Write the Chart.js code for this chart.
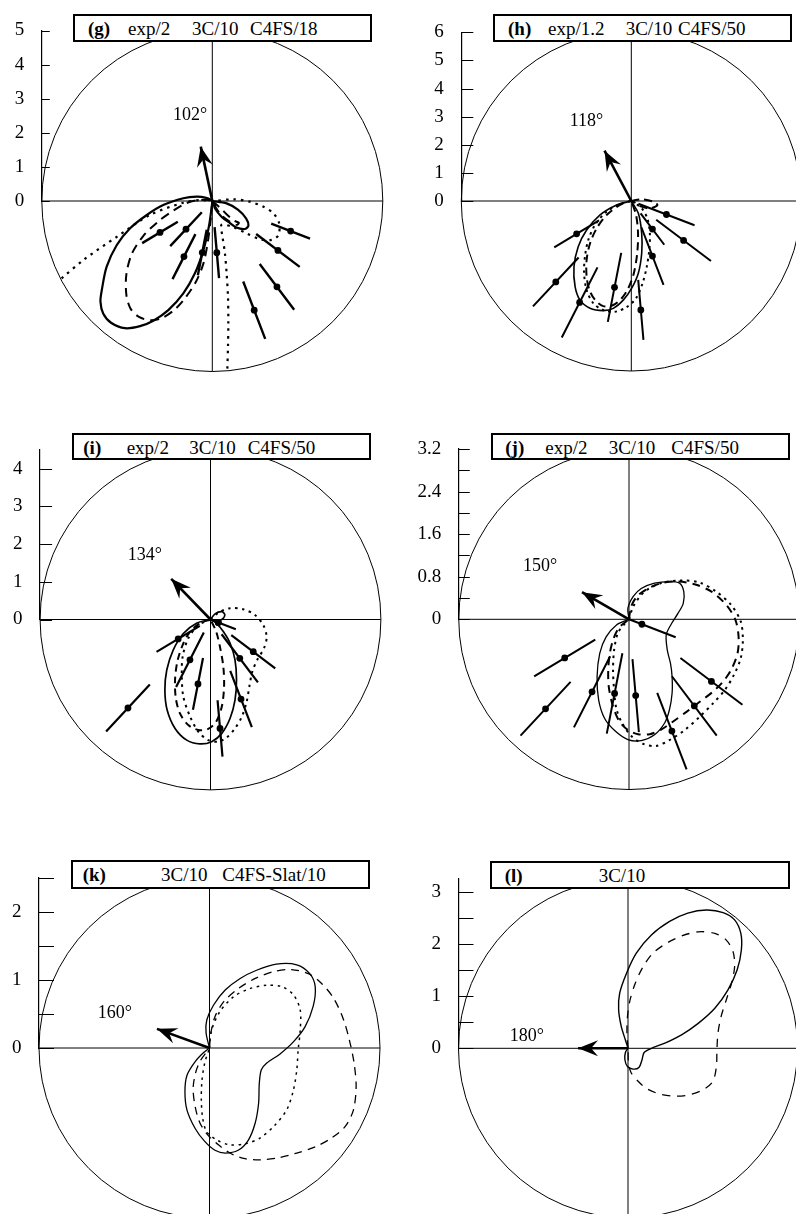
<!DOCTYPE html>
<html lang="en">
<head>
<meta charset="utf-8">
<title>Polar distributions (g)–(l)</title>
<script src="https://cdn.jsdelivr.net/npm/chart.js@4.4.1/dist/chart.umd.min.js"></script>
<style>
  html, body { margin: 0; padding: 0; background: #fff; }
  #page { position: relative; width: 796px; height: 1214px; overflow: hidden; background: #fff;
          font-family: "Liberation Serif", "Times New Roman", serif; color: #000; }
  #page canvas { position: absolute; }
  .heading { position: absolute; box-sizing: border-box; border: 2px solid #000; background: #fff; }
  .htext { position: absolute; font-size: 19px; line-height: 19px; white-space: nowrap; }
  .htext.letter { font-weight: bold; }
  .angle { position: absolute; font-size: 18px; line-height: 18px; white-space: nowrap; }
</style>
</head>
<body>
<div id="page"></div>
<script>
// ---------------------------------------------------------------------------
// Measured points (panels g–j): azimuth in degrees, magnitude and uncertainty
// ---------------------------------------------------------------------------
const pointAngles = [211, 227, 243, 259, 275, 291, 307, 323, 339];

const gPointR   = [1.79, 1.13, 1.83, 1.54, 1.52, 3.43, 3.15, 2.41, 2.46];
const gPointErr = [0.61, 0.68, 0.74, 0.68, 0.75, 0.90, 0.84, 0.80, 0.61];
const hPointR   = [2.27, 3.94, 4.05, 3.13, 3.89, 2.10, 1.25, 2.33, 1.34];
const hPointErr = [0.93, 1.19, 1.40, 1.25, 1.07, 1.10, 0.70, 1.22, 1.07];
const iPointR   = [1.00, 3.21, 1.20, 1.74, 2.90, 2.26, 1.29, 1.42, 0.22];
const iPointErr = [0.67, 0.85, 0.81, 0.70, 0.75, 0.80, 0.80, 0.73, 0.50];
const jPointR   = [1.41, 2.30, 1.53, 1.42, 1.44, 2.25, 2.04, 1.94, 0.26];
const jPointErr = [0.67, 0.69, 0.75, 0.77, 0.69, 0.77, 0.70, 0.73, 0.68];

// Direction of the arrow in each panel (degrees, counter-clockwise from +x)
const arrowAngles = [102, 118, 134, 150, 160, 180];

// Vertical axis ticks and the subset that carries a label
const gTicks = [0, 1, 2, 3, 4, 5];
const hTicks = [0, 1, 2, 3, 4, 5, 6];
const iTicks = [0, 1, 2, 3, 4];
const jTicks = [0, 0.4, 0.8, 1.2, 1.6, 2.0, 2.4, 2.8, 3.2];
const jTickLabels = [0, 0.8, 1.6, 2.4, 3.2];
const kTicks = [0, 0.5, 1, 1.5, 2, 2.5];
const kTickLabels = [0, 1, 2];
const lTicks = [0, 0.5, 1, 1.5, 2, 2.5, 3];
const lTickLabels = [0, 1, 2, 3];

// Panel headings
const panelLetters = ['(g)', '(h)', '(i)', '(j)', '(k)', '(l)'];
const headings = [
  ['exp/2', '3C/10', 'C4FS/18'],
  ['exp/1.2', '3C/10', 'C4FS/50'],
  ['exp/2', '3C/10', 'C4FS/50'],
  ['exp/2', '3C/10', 'C4FS/50'],
  ['3C/10', 'C4FS-Slat/10'],
  ['3C/10']
];

// ---------------------------------------------------------------------------
// Calculated distributions, traced as [x, y] points in axis units
// ---------------------------------------------------------------------------
const gSolid = [[0,0],[0.42,-0.07],[0.76,-0.26],[0.99,-0.51],[1.06,-0.72],[0.96,-0.82],[0.71,-0.78],[0.52,-0.65],[0.27,-0.46],[0.08,-0.22],[0,0],
  [-0.21,0.10],[-0.46,0.13],[-0.85,0.08],[-1.44,-0.12],[-1.92,-0.41],[-2.41,-0.80],[-2.80,-1.29],[-3.10,-1.93],[-3.24,-2.61],[-3.28,-2.95],
  [-3.20,-3.30],[-2.97,-3.57],[-2.56,-3.73],[-2.12,-3.67],[-1.73,-3.51],[-1.29,-3.20],[-0.85,-2.71],[-0.51,-2.12],[-0.26,-1.44],[-0.10,-0.75],[-0.01,-0.12],[0,0]];
const gDashed = [[0,0],[0.25,-0.22],[0.45,-0.42],[0.65,-0.58],[0.78,-0.64],[0.72,-0.70],[0.50,-0.60],[0.25,-0.40],[0.08,-0.15],[0,0],
  [-0.36,0.03],[-0.75,-0.06],[-1.14,-0.28],[-1.56,-0.58],[-2.02,-1.02],[-2.36,-1.55],[-2.52,-2.15],[-2.52,-2.75],[-2.40,-3.15],[-2.15,-3.40],
  [-1.80,-3.50],[-1.45,-3.42],[-1.10,-3.18],[-0.80,-2.85],[-0.48,-2.37],[-0.26,-1.83],[-0.13,-1.19],[-0.05,-0.56],[0,0]];
const gDotted = [[-4.42,-2.27],[-3.78,-1.73],[-2.80,-1.05],[-1.83,-0.41],[-0.85,-0.05],[-0.36,0.03],[0,0],[0.62,0.05],[1.10,-0.02],[1.50,-0.17],
  [1.79,-0.36],[1.96,-0.65],[1.94,-1.00],[1.74,-1.14],[1.40,-1.12],[1.01,-0.95],[0.62,-0.77],[0.27,-0.70],[0.30,-1.05],[0.37,-1.53],[0.42,-2.12],
  [0.46,-2.81],[0.47,-3.59],[0.46,-4.27],[0.44,-4.95]];

const hSolid = [[0,0],[-0.52,-0.14],[-1.12,-0.50],[-1.59,-1.03],[-1.89,-1.63],[-2.04,-2.34],[-2.00,-3.05],[-1.83,-3.52],[-1.47,-3.82],[-1.00,-3.90],
  [-0.64,-3.82],[-0.28,-3.52],[0.01,-3.11],[0.25,-2.57],[0.37,-1.86],[0.37,-1.15],[0.25,-0.44],[0,0]];
const hDashed = [[0,0],[0.37,0.06],[0.78,-0.02],[0.93,-0.14],[0.66,-0.26],[0.31,-0.18],[0,0],[-0.40,-0.14],[-0.88,-0.50],[-1.23,-0.97],[-1.47,-1.51],
  [-1.59,-2.10],[-1.59,-2.69],[-1.49,-3.17],[-1.29,-3.52],[-1.00,-3.74],[-0.64,-3.70],[-0.34,-3.46],[-0.11,-3.11],[0.09,-2.57],[0.21,-1.86],
  [0.24,-1.15],[0.17,-0.50],[0,0]];
const hDotted = [[0,0],[0.37,-0.26],[0.57,-0.62],[0.66,-1.15],[0.64,-1.74],[0.55,-2.34],[0.40,-2.93],[0.17,-3.46],[-0.17,-3.78],[-0.58,-3.94],
  [-1.00,-3.88],[-1.35,-3.64],[-1.59,-3.17],[-1.68,-2.57],[-1.65,-1.98],[-1.53,-1.39],[-1.29,-0.85],[-0.88,-0.38],[-0.40,-0.11],[0,0]];

const iSolid = [[0,0],[0.12,0.15],[0.30,0.21],[0.38,0.12],[0.30,0.00],[0.12,-0.03],[0,0],[-0.37,-0.10],[-0.72,-0.37],[-0.99,-0.81],[-1.16,-1.34],
  [-1.21,-1.87],[-1.15,-2.40],[-0.94,-2.89],[-0.63,-3.20],[-0.28,-3.30],[0.03,-3.24],[0.30,-3.02],[0.52,-2.62],[0.65,-2.14],[0.69,-1.60],
  [0.65,-1.07],[0.52,-0.63],[0.34,-0.32],[0.16,-0.10],[0,0]];
const iDashed = [[0,0],[-0.28,-0.10],[-0.54,-0.32],[-0.74,-0.68],[-0.88,-1.12],[-0.94,-1.60],[-0.92,-2.09],[-0.81,-2.49],[-0.59,-2.80],[-0.32,-2.93],
  [-0.06,-2.90],[0.15,-2.71],[0.30,-2.31],[0.36,-1.78],[0.34,-1.25],[0.25,-0.72],[0.15,-0.32],[0,0]];
const iDotted = [[0,0],[0.21,0.18],[0.52,0.30],[0.87,0.27],[1.18,0.12],[1.40,-0.15],[1.49,-0.46],[1.42,-0.76],[1.24,-1.07],[1.11,-1.38],[1.03,-1.78],
  [0.96,-2.18],[0.83,-2.58],[0.65,-2.89],[0.43,-3.13],[0.21,-3.24],[-0.06,-3.20],[-0.32,-2.98],[-0.54,-2.58],[-0.72,-2.05],[-0.76,-1.52],
  [-0.74,-0.99],[-0.59,-0.50],[-0.32,-0.15],[0,0]];

const jSolid = [[0,0],[-0.02,0.21],[0.08,0.43],[0.23,0.58],[0.48,0.68],[0.76,0.71],[0.95,0.68],[1.03,0.52],[1.02,0.30],[0.92,0.11],[0.80,-0.08],
  [0.70,-0.29],[0.72,-0.58],[0.78,-0.83],[0.81,-1.08],[0.81,-1.39],[0.76,-1.70],[0.67,-1.95],[0.48,-2.17],[0.23,-2.28],[-0.02,-2.26],[-0.27,-2.09],
  [-0.46,-1.86],[-0.57,-1.52],[-0.60,-1.08],[-0.55,-0.64],[-0.43,-0.33],[-0.24,-0.11],[0,0]];
const jDashed = [[0,0],[0.04,0.24],[0.16,0.44],[0.36,0.58],[0.61,0.68],[0.92,0.71],[1.23,0.66],[1.55,0.52],[1.83,0.27],[2.00,-0.01],[2.06,-0.33],
  [2.04,-0.64],[1.92,-0.95],[1.77,-1.17],[1.58,-1.36],[1.33,-1.55],[1.08,-1.74],[0.83,-1.92],[0.61,-2.07],[0.39,-2.16],[0.17,-2.16],[-0.02,-2.08],
  [-0.18,-1.92],[-0.30,-1.64],[-0.38,-1.27],[-0.39,-0.95],[-0.36,-0.64],[-0.29,-0.36],[-0.18,-0.15],[0,0]];
const jDotted = [[0,0],[0.08,0.24],[0.29,0.52],[0.61,0.68],[0.98,0.73],[1.33,0.69],[1.64,0.52],[1.92,0.27],[2.10,-0.04],[2.14,-0.39],[2.10,-0.73],
  [1.97,-1.05],[1.80,-1.33],[1.58,-1.58],[1.33,-1.83],[1.05,-2.08],[0.76,-2.27],[0.51,-2.38],[0.26,-2.34],[0.04,-2.19],[-0.13,-1.95],[-0.24,-1.67],
  [-0.28,-1.33],[-0.30,-0.95],[-0.28,-0.58],[-0.21,-0.26],[-0.08,-0.08],[0,0]];

const kSolid = [[0,0],[-0.05,0.22],[-0.04,0.41],[0.06,0.63],[0.23,0.85],[0.45,1.02],[0.69,1.14],[0.98,1.23],[1.28,1.22],[1.47,1.09],[1.55,0.90],
  [1.52,0.61],[1.40,0.31],[1.23,0.09],[1.03,-0.09],[0.84,-0.22],[0.76,-0.32],[0.73,-0.52],[0.72,-0.81],[0.67,-1.10],[0.57,-1.35],[0.42,-1.50],
  [0.23,-1.54],[0.08,-1.50],[-0.07,-1.37],[-0.21,-1.18],[-0.33,-0.91],[-0.36,-0.64],[-0.33,-0.40],[-0.21,-0.20],[-0.09,-0.07],[0,0]];
const kDashed = [[0,0],[0.02,0.22],[0.08,0.46],[0.21,0.68],[0.42,0.87],[0.67,1.02],[0.94,1.12],[1.20,1.15],[1.45,1.09],[1.64,0.95],[1.82,0.73],
  [1.96,0.43],[2.05,0.12],[2.12,-0.22],[2.15,-0.57],[2.11,-0.91],[1.99,-1.15],[1.79,-1.32],[1.55,-1.45],[1.28,-1.54],[1.01,-1.61],[0.74,-1.64],
  [0.50,-1.62],[0.30,-1.54],[0.13,-1.42],[-0.02,-1.28],[-0.14,-1.10],[-0.21,-0.86],[-0.24,-0.59],[-0.20,-0.35],[-0.13,-0.18],[-0.05,-0.07],[0,0]];
const kDotted = [[0,0],[0.03,0.26],[0.15,0.53],[0.35,0.75],[0.59,0.87],[0.84,0.92],[1.06,0.90],[1.23,0.78],[1.33,0.56],[1.33,0.26],[1.30,-0.03],
  [1.28,-0.32],[1.23,-0.62],[1.13,-0.91],[0.94,-1.15],[0.74,-1.32],[0.54,-1.40],[0.30,-1.42],[0.11,-1.35],[-0.04,-1.23],[-0.10,-1.03],
  [-0.12,-0.76],[-0.11,-0.47],[-0.07,-0.22],[0,0]];

const lSolid = [[0,0],[-0.05,0.16],[-0.13,0.42],[-0.18,0.74],[-0.16,1.06],[-0.03,1.44],[0.16,1.83],[0.45,2.18],[0.80,2.44],[1.15,2.60],[1.51,2.66],
  [1.83,2.61],[2.05,2.47],[2.17,2.21],[2.18,1.89],[2.10,1.51],[1.92,1.12],[1.67,0.77],[1.35,0.48],[1.03,0.26],[0.71,0.10],[0.45,0.00],
  [0.31,-0.08],[0.27,-0.22],[0.21,-0.37],[0.10,-0.40],[-0.01,-0.35],[-0.06,-0.22],[-0.05,-0.08],[0,0]];
const lDashed = [[0,0],[-0.02,0.29],[-0.01,0.61],[0.04,0.93],[0.14,1.25],[0.29,1.57],[0.48,1.83],[0.74,2.02],[1.03,2.16],[1.35,2.24],[1.67,2.21],
  [1.89,2.08],[2.02,1.86],[2.05,1.57],[1.99,1.25],[1.89,0.93],[1.79,0.61],[1.73,0.29],[1.71,-0.03],[1.70,-0.35],[1.63,-0.64],[1.44,-0.80],
  [1.15,-0.90],[0.87,-0.92],[0.58,-0.87],[0.35,-0.77],[0.18,-0.62],[0.06,-0.47],[0.01,-0.29],[0,0]];

// ---------------------------------------------------------------------------
// Panel set-up: scales, page geometry and line styles
// ---------------------------------------------------------------------------
const panels = [
  { curves: [[gSolid, 'solid'], [gDashed, 'dash'], [gDotted, 'dot']], pointR: gPointR, pointErr: gPointErr,
    ticks: gTicks, tickLabels: gTicks, yMax: 5, radius: 5, arrowLen: 1.63,
    geo: { cx: 212.3, cy: 201, ppu: 34.1, canvas: [0, 0, 398, 400], tickLen: 8,
           box: [73, 14, 299, 28], textX: [88, 128, 192, 250], angleAt: [173, 104.9] },
    style: { solid: 2.2, dash: [2.0, [9, 6]], dot: [2.2, [2.5, 5]], bar: 2.4 } },
  { curves: [[hSolid, 'solid'], [hDashed, 'dash'], [hDotted, 'dot']], pointR: hPointR, pointErr: hPointErr,
    ticks: hTicks, tickLabels: hTicks, yMax: 6, radius: 6.05, arrowLen: 2.03,
    geo: { cx: 631.3, cy: 201, ppu: 28.1, canvas: [398, 0, 442, 400], tickLen: 12,
           box: [493, 13.5, 298.5, 28], textX: [508, 548, 625.7, 678], angleAt: [569.7, 110.9] },
    style: { solid: 1.6, dash: [2.0, [8, 5]], dot: [2.0, [2.5, 4]], bar: 2.0 } },
  { curves: [[iSolid, 'solid'], [iDashed, 'dash'], [iDotted, 'dot']], pointR: iPointR, pointErr: iPointErr,
    ticks: iTicks, tickLabels: iTicks, yMax: 4.5, radius: 4.52, arrowLen: 1.50,
    geo: { cx: 210.5, cy: 619.5, ppu: 37.7, canvas: [0, 400, 398, 420], tickLen: 12,
           box: [71.5, 432.5, 299.5, 27.5], textX: [83.3, 126.7, 189.3, 247.7], angleAt: [127.7, 544.9] },
    style: { solid: 1.7, dash: [2.0, [7, 5]], dot: [2.0, [2.5, 4.5]], bar: 2.2 } },
  { curves: [[jSolid, 'solid'], [jDashed, 'dash'], [jDotted, 'dot']], pointR: jPointR, pointErr: jPointErr,
    ticks: jTicks, tickLabels: jTickLabels, yMax: 3.2, radius: 3.2, arrowLen: 1.02,
    geo: { cx: 629, cy: 619.3, ppu: 53.2, canvas: [398, 400, 442, 420], tickLen: 11,
           box: [490.5, 432.5, 299, 27.5], textX: [505.3, 545.3, 608.7, 671.3], angleAt: [523, 555.9] },
    style: { solid: 1.3, dash: [2.0, [8, 6]], dot: [2.0, [2.5, 4.5]], bar: 2.0 } },
  { curves: [[kSolid, 'solid'], [kDashed, 'dash'], [kDotted, 'dot']], pointR: null, pointErr: null,
    ticks: kTicks, tickLabels: kTickLabels, yMax: 2.5, radius: 2.5, arrowLen: 0.82,
    geo: { cx: 209.5, cy: 1048, ppu: 68.2, canvas: [0, 820, 398, 400], tickLen: 15,
           box: [71, 860, 299, 28.5], textX: [82.7, 161, 222.3], angleAt: [97.7, 1002.9] },
    style: { solid: 1.3, dash: [1.3, [8, 6]], dot: [1.5, [2.5, 4.5]], bar: 2.0 } },
  { curves: [[lSolid, 'solid'], [lDashed, 'dash']], pointR: null, pointErr: null,
    ticks: lTicks, tickLabels: lTickLabels, yMax: 3.27, radius: 3.26, arrowLen: 0.96,
    geo: { cx: 628, cy: 1048.3, ppu: 52, canvas: [398, 820, 442, 400], tickLen: 15,
           box: [490.3, 860.5, 300, 28], textX: [504.7, 598.7], angleAt: [509.7, 1025.9] },
    style: { solid: 1.4, dash: [1.3, [8, 7]], dot: [1.5, [2.5, 4.5]], bar: 2.0 } }
];

function polar(deg, r) {
  const a = deg * Math.PI / 180;
  return { x: r * Math.cos(a), y: r * Math.sin(a) };
}

// Polar frame (outer circle, cross-hair, inward ticks), point markers and arrow heads.
// The y scale only spans the upper half-axis, so markers below it are drawn here
// from the elements the scatter controller has already positioned.
const polarFrame = {
  id: 'polarFrame',
  beforeDatasetsDraw(chart, args, opts) {
    const { ctx, chartArea, scales: { x, y } } = chart;
    const cx = x.getPixelForValue(0), cy = y.getPixelForValue(0);
    const rPx = x.getPixelForValue(opts.radius) - cx;
    ctx.save();
    ctx.strokeStyle = '#000';
    ctx.lineWidth = 1;
    ctx.beginPath();
    ctx.arc(cx, cy, rPx, 0, Math.PI * 2);
    ctx.stroke();
    ctx.beginPath();
    ctx.moveTo(cx - rPx, cy); ctx.lineTo(cx + rPx, cy);
    ctx.moveTo(cx, cy - rPx); ctx.lineTo(cx, cy + rPx);
    ctx.stroke();
    ctx.lineWidth = 1.2;
    ctx.beginPath();
    y.ticks.forEach(t => {
      const py = Math.round(y.getPixelForValue(t.value)) + 0.5;
      ctx.moveTo(chartArea.left, py);
      ctx.lineTo(chartArea.left + opts.tickLen, py);
    });
    ctx.stroke();
    ctx.restore();
  },
  afterDatasetsDraw(chart) {
    const { ctx } = chart;
    chart.data.datasets.forEach((d, i) => {
      const els = chart.getDatasetMeta(i).data;
      if (d.dotMarks) {
        els.forEach(el => { ctx.save(); el.draw(ctx); ctx.restore(); });
      }
      if (!d.arrowHead) return;
      const a = els[0], b = els[els.length - 1];
      let dx = b.x - a.x, dy = b.y - a.y;
      const L = Math.hypot(dx, dy); dx /= L; dy /= L;
      const len = 20, half = 8, notch = 13;
      ctx.save();
      ctx.fillStyle = '#000';
      ctx.beginPath();
      ctx.moveTo(b.x, b.y);
      ctx.lineTo(b.x - dx * len - dy * half, b.y - dy * len + dx * half);
      ctx.lineTo(b.x - dx * notch, b.y - dy * notch);
      ctx.lineTo(b.x - dx * len + dy * half, b.y - dy * len - dx * half);
      ctx.closePath();
      ctx.fill();
      ctx.restore();
    });
  }
};

const page = document.getElementById('page');

panels.forEach((P, idx) => {
  const g = P.geo;
  const [cl, ct, cw, ch] = g.canvas;
  const chartLeft = g.cx - P.radius * g.ppu;
  const chartRight = g.cx + P.radius * g.ppu;
  const chartTop = g.cy - P.yMax * g.ppu;
  const axisWidth = chartLeft - cl;

  const canvas = document.createElement('canvas');
  canvas.width = cw; canvas.height = ch;
  canvas.style.left = cl + 'px'; canvas.style.top = ct + 'px';
  canvas.style.width = cw + 'px'; canvas.style.height = ch + 'px';
  page.appendChild(canvas);

  const datasets = [];
  P.curves.forEach(([pts, kind]) => {
    const w = kind === 'solid' ? P.style.solid : P.style[kind][0];
    const dash = kind === 'solid' ? [] : P.style[kind][1];
    datasets.push({
      data: pts.map(([x, y]) => ({ x, y })),
      showLine: true, pointRadius: 0, borderColor: '#000', borderWidth: w,
      borderDash: dash, borderCapStyle: 'butt', borderJoinStyle: 'round',
      tension: 0.3, clip: false
    });
  });

  if (P.pointR) {
    const bars = [];
    pointAngles.forEach((a, k) => {
      const r = P.pointR[k], e = P.pointErr[k];
      bars.push(polar(a, Math.max(0, r - e)), polar(a, r + e), { x: null, y: null });
    });
    datasets.push({
      data: bars, showLine: true, spanGaps: false, pointRadius: 0,
      borderColor: '#000', borderWidth: P.style.bar, tension: 0, clip: false
    });
    datasets.push({
      data: pointAngles.map((a, k) => polar(a, P.pointR[k])),
      showLine: false, pointRadius: 3.4, pointBackgroundColor: '#000',
      pointBorderColor: '#000', pointBorderWidth: 0, clip: false, dotMarks: true
    });
  }

  datasets.push({
    data: [{ x: 0, y: 0 }, polar(arrowAngles[idx], P.arrowLen)],
    showLine: true, pointRadius: 0, borderColor: '#000', borderWidth: 2.6,
    tension: 0, clip: false, arrowHead: true
  });

  new Chart(canvas, {
    type: 'scatter',
    data: { datasets },
    options: {
      responsive: false, animation: false, events: [],
      layout: { padding: { left: 0, right: cl + cw - chartRight, top: chartTop - ct, bottom: ct + ch - g.cy } },
      plugins: {
        legend: { display: false }, tooltip: { enabled: false },
        polarFrame: { radius: P.radius, tickLen: g.tickLen }
      },
      scales: {
        x: { type: 'linear', min: -P.radius, max: P.radius, display: false },
        y: {
          type: 'linear', position: 'left', min: 0, max: P.yMax,
          grid: { display: false, drawTicks: false },
          border: { display: true, color: '#000', width: 1.2 },
          ticks: {
            autoSkip: false, padding: 17.5, color: '#000',
            font: { family: '"Liberation Serif", "Times New Roman", serif', size: 19 },
            callback: v => (P.tickLabels.includes(v) ? String(v) : '')
          },
          afterBuildTicks: s => { s.ticks = P.ticks.map(v => ({ value: v })); },
          afterFit: s => { s.width = axisWidth; }
        }
      }
    },
    plugins: [polarFrame]
  });

  // Heading box with its text
  const [bx, by, bw, bh] = g.box;
  const box = document.createElement('div');
  box.className = 'heading';
  Object.assign(box.style, { left: bx + 'px', top: by + 'px', width: bw + 'px', height: bh + 'px' });
  page.appendChild(box);
  [panelLetters[idx], ...headings[idx]].forEach((txt, k) => {
    const s = document.createElement('span');
    s.className = 'htext' + (k === 0 ? ' letter' : '');
    s.textContent = txt;
    s.style.left = g.textX[k] + 'px';
    s.style.top = (by + 5.1) + 'px';
    page.appendChild(s);
  });

  // Angle of the arrow
  const lab = document.createElement('span');
  lab.className = 'angle';
  lab.textContent = arrowAngles[idx] + '°';
  lab.style.left = g.angleAt[0] + 'px';
  lab.style.top = g.angleAt[1] + 'px';
  page.appendChild(lab);
});
</script>
</body>
</html>
